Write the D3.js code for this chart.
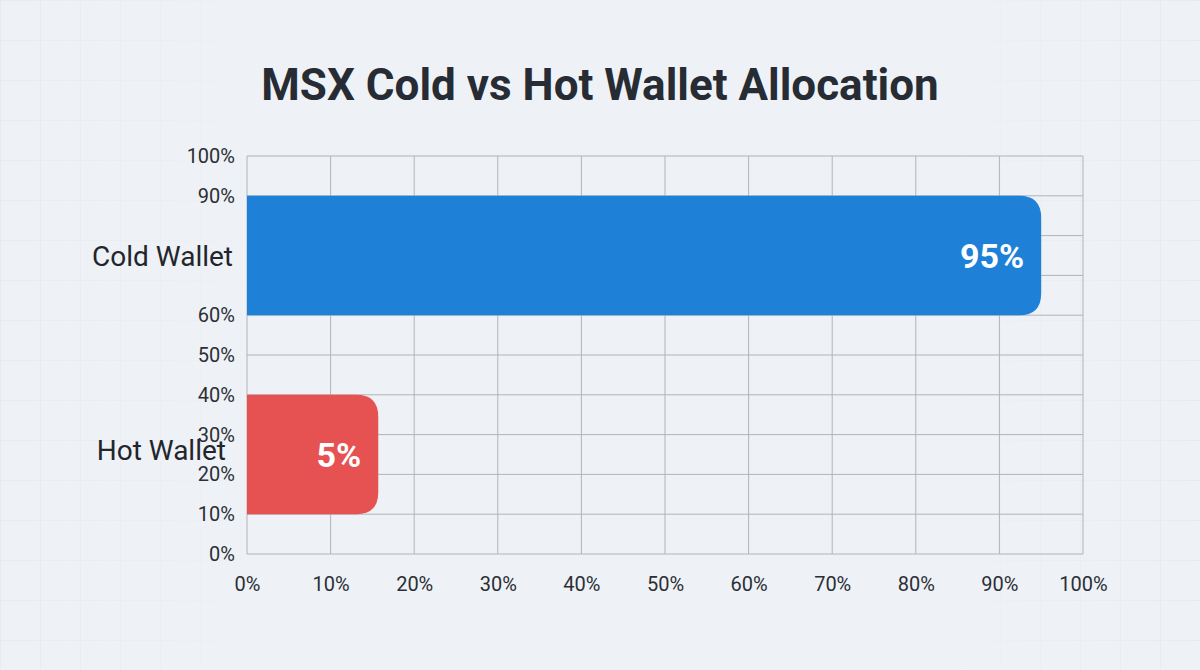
<!DOCTYPE html>
<html>
<head>
<meta charset="utf-8">
<script src="https://cdn.jsdelivr.net/npm/d3@7"></script>
<style>
  html, body { margin: 0; padding: 0; background: #eef2f6; }
  svg { display: block; font-family: Roboto, "Noto Sans", sans-serif; }
</style>
</head>
<body>
<div id="chart"></div>
<script>
// data
const categories = ['Cold Wallet', 'Hot Wallet'];
const shares = [95, 5];            // printed on the bars
const barEnds = [95, 15.7];        // where each bar actually stops on the x axis
const barColors = ['#1f80d8', '#e65252'];
const xTicks = [0, 10, 20, 30, 40, 50, 60, 70, 80, 90, 100];
const yGrid = [0, 10, 20, 30, 40, 50, 60, 70, 80, 90, 100];
const yTickLabels = [100, 90, 60, 50, 40, 30, 20, 10, 0];   // 80% and 70% are not shown
const title = 'MSX Cold vs Hot Wallet Allocation';

const width = 1200, height = 670;
const margin = {top: 156, right: 117, bottom: 116, left: 247};
const innerW = width - margin.left - margin.right;
const innerH = height - margin.top - margin.bottom;

const svg = d3.select('#chart').append('svg')
    .attr('width', width)
    .attr('height', height);

// faint background grid, visible toward the edges only
const defs = svg.append('defs');
const pat = defs.append('pattern')
    .attr('id', 'bggrid')
    .attr('width', 40).attr('height', 40)
    .attr('patternUnits', 'userSpaceOnUse');
pat.append('path')
    .attr('d', 'M40 0H0V40')
    .attr('fill', 'none')
    .attr('stroke', '#dfe5eb')
    .attr('stroke-width', 1);
const grad = defs.append('linearGradient').attr('id', 'edgefade');
[[0, 1], [0.22, 0], [0.78, 0], [1, 1]].forEach(([o, a]) => {
    grad.append('stop').attr('offset', o).attr('stop-color', '#fff').attr('stop-opacity', a);
});
defs.append('mask').attr('id', 'edgemask')
    .append('rect').attr('width', width).attr('height', height).attr('fill', 'url(#edgefade)');

svg.append('rect').attr('width', width).attr('height', height).attr('fill', '#eef2f6');
svg.append('rect').attr('width', width).attr('height', height)
    .attr('fill', 'url(#bggrid)').attr('mask', 'url(#edgemask)');

// title
svg.append('text')
    .attr('x', 600).attr('y', 100)
    .attr('text-anchor', 'middle')
    .attr('font-size', 44)
    .attr('font-weight', 700)
    .attr('fill', '#272c34')
    .text(title);

const chart = svg.append('g')
    .attr('transform', `translate(${margin.left},${margin.top})`);

const x = d3.scaleLinear([0, 100], [0, innerW]);
const y = d3.scaleLinear([0, 100], [innerH, 0]);
const band = d3.scaleBand(categories, [0, innerH])
    .paddingInner(0.4)
    .paddingOuter(0.2);

// grid
const gridColor = '#b0b4b9';
chart.append('g').selectAll('line.v')
    .data(xTicks)
    .join('line')
    .attr('x1', d => x(d)).attr('x2', d => x(d))
    .attr('y1', 0).attr('y2', innerH)
    .attr('stroke', gridColor).attr('stroke-width', 1);
chart.append('g').selectAll('line.h')
    .data(yGrid)
    .join('line')
    .attr('x1', 0).attr('x2', innerW)
    .attr('y1', d => y(d)).attr('y2', d => y(d))
    .attr('stroke', gridColor).attr('stroke-width', 1);

// bars: square on the left, rounded on the right
const r = 22;
function barPath(x1, y0, h) {
    const rr = Math.min(r, x1, h / 2);
    return `M0,${y0}H${x1 - rr}Q${x1},${y0} ${x1},${y0 + rr}` +
        `V${y0 + h - rr}Q${x1},${y0 + h} ${x1 - rr},${y0 + h}H0Z`;
}
const rows = categories.map((c, i) => ({cat: c, share: shares[i], end: barEnds[i], color: barColors[i]}));

chart.append('g').selectAll('path')
    .data(rows)
    .join('path')
    .attr('d', d => barPath(x(d.end), band(d.cat), band.bandwidth()))
    .attr('fill', d => d.color);

chart.append('g').selectAll('text')
    .data(rows)
    .join('text')
    .attr('x', d => x(d.end) - 17)
    .attr('y', d => band(d.cat) + band.bandwidth() / 2)
    .attr('dy', '0.36em')
    .attr('text-anchor', 'end')
    .attr('font-size', 34)
    .attr('font-weight', 700)
    .attr('fill', '#ffffff')
    .text(d => d.share + '%');

// axes as plain tick labels
const tickColor = '#2b2f35';
const axisX = svg.append('g')
    .attr('transform', `translate(${margin.left},${margin.top + innerH})`)
    .call(d3.axisBottom(x).tickValues(xTicks).tickFormat(d => d + '%').tickSize(0).tickPadding(23));
const axisY = svg.append('g')
    .attr('transform', `translate(${margin.left},${margin.top})`)
    .call(d3.axisLeft(y).tickValues(yTickLabels).tickFormat(d => d + '%').tickSize(0).tickPadding(12));
[axisX, axisY].forEach(a => {
    a.select('.domain').remove();
    a.selectAll('text')
        .attr('font-size', 20)
        .attr('font-family', 'Roboto, "Noto Sans", sans-serif')
        .attr('fill', tickColor);
});

// category labels (the hot wallet one sits a little left and up, over the 30%/20% ticks)
const labelNudge = {'Cold Wallet': [0, 0], 'Hot Wallet': [-7, -5]};
chart.append('g').selectAll('text')
    .data(categories)
    .join('text')
    .attr('x', d => -14 + labelNudge[d][0])
    .attr('y', d => band(d) + band.bandwidth() / 2 + labelNudge[d][1])
    .attr('dy', '0.36em')
    .attr('text-anchor', 'end')
    .attr('font-size', 28)
    .attr('fill', '#22262c')
    .text(d => d);
</script>
</body>
</html>
